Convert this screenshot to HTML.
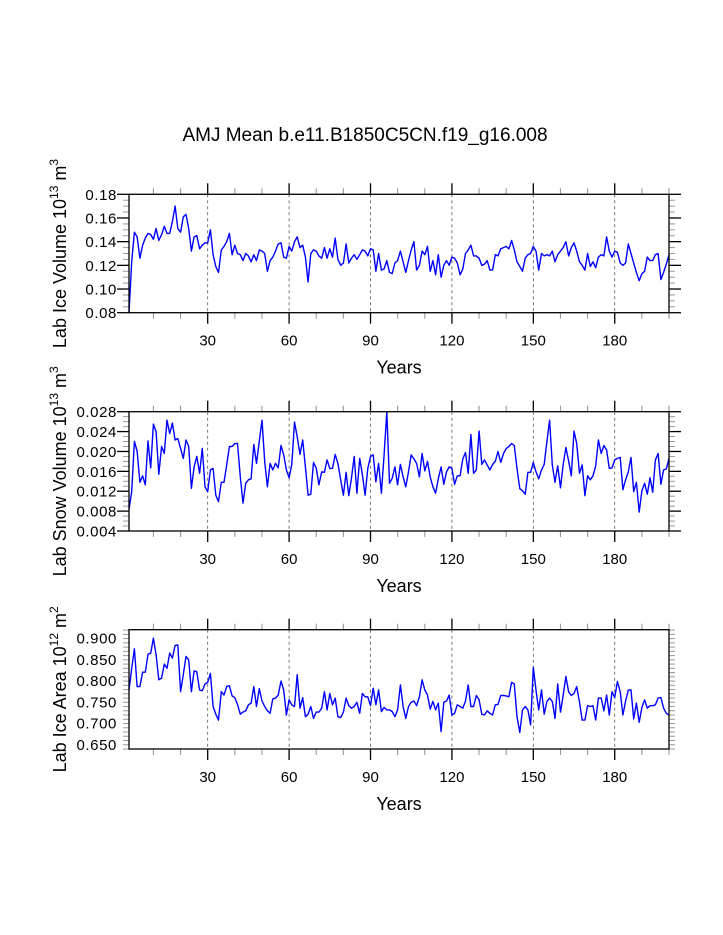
<!DOCTYPE html>
<html><head><meta charset="utf-8"><style>
html,body{margin:0;padding:0;background:#fff;width:723px;height:935px;overflow:hidden}
svg text{font-family:"Liberation Sans",Arial,sans-serif;fill:#000}
</style></head><body>
<svg id="chart" width="723" height="935" xmlns="http://www.w3.org/2000/svg">
<text x="365" y="141" font-size="19" text-anchor="middle">AMJ Mean b.e11.B1850C5CN.f19_g16.008</text>
</svg>
<script>
const years = Array.from({length:200},(_,i)=>i+1);
const xTicks = [30,60,90,120,150,180];
const iceVolume = [.080,.123,.148,.144,.126,.137,.143,.147,.146,.142,.151,.141,.146,.153,.147,.147,.157,.170,.151,.148,.161,.163,.151,.132,.144,.145,.134,.137,.139,.139,.150,.129,.119,.114,.133,.136,.140,.147,.129,.137,.130,.129,.124,.130,.128,.123,.129,.124,.133,.132,.130,.115,.124,.127,.132,.138,.139,.127,.126,.136,.132,.140,.144,.135,.137,.127,.106,.130,.133,.132,.128,.126,.135,.126,.134,.127,.143,.125,.120,.122,.138,.122,.126,.129,.125,.129,.133,.132,.128,.134,.133,.115,.130,.116,.117,.124,.114,.113,.122,.124,.132,.123,.114,.124,.133,.140,.116,.120,.132,.129,.136,.115,.124,.112,.129,.110,.120,.124,.120,.127,.126,.122,.112,.117,.130,.133,.137,.128,.128,.126,.120,.121,.124,.116,.116,.129,.128,.134,.135,.136,.134,.141,.133,.123,.119,.115,.126,.129,.130,.136,.132,.116,.130,.128,.129,.128,.132,.123,.129,.132,.135,.140,.128,.135,.139,.132,.123,.120,.116,.130,.119,.123,.118,.127,.129,.128,.144,.132,.127,.132,.131,.122,.120,.122,.138,.130,.122,.114,.107,.113,.115,.127,.124,.124,.129,.130,.108,.114,.121,.129];
const snowVolume = [.0084,.0119,.0220,.0201,.0138,.0151,.0133,.0221,.0167,.0255,.0240,.0154,.0210,.0196,.0263,.0236,.0257,.0223,.0226,.0206,.0186,.0223,.0210,.0126,.0169,.0190,.0156,.0206,.0129,.0119,.0163,.0166,.0112,.0099,.0138,.0138,.0173,.0210,.0210,.0216,.0216,.0149,.0096,.0136,.0143,.0145,.0214,.0176,.0221,.0263,.0180,.0129,.0176,.0163,.0176,.0167,.0212,.0193,.0163,.0147,.0174,.0259,.0230,.0194,.0223,.0169,.0112,.0114,.0178,.0167,.0133,.0159,.0158,.0183,.0166,.0166,.0194,.0176,.0143,.0112,.0158,.0111,.0147,.0190,.0116,.0186,.0153,.0112,.0166,.0190,.0193,.0139,.0176,.0116,.0193,.0280,.0136,.0146,.0169,.0133,.0174,.0149,.0129,.0159,.0193,.0185,.0176,.0149,.0196,.0161,.0180,.0149,.0129,.0116,.0145,.0169,.0134,.0159,.0169,.0166,.0134,.0151,.0151,.0185,.0198,.0156,.0234,.0156,.0163,.0241,.0174,.0183,.0173,.0163,.0174,.0180,.0200,.0178,.0196,.0206,.0210,.0216,.0212,.0166,.0125,.0121,.0114,.0158,.0158,.0178,.0159,.0145,.0163,.0174,.0220,.0263,.0173,.0138,.0171,.0127,.0174,.0208,.0181,.0151,.0241,.0216,.0156,.0173,.0111,.0151,.0143,.0151,.0171,.0223,.0196,.0212,.0203,.0166,.0167,.0183,.0186,.0188,.0123,.0143,.0159,.0188,.0119,.0138,.0078,.0121,.0136,.0114,.0147,.0118,.0183,.0196,.0134,.0163,.0165,.0186];
const iceArea = [.778,.829,.875,.786,.786,.820,.820,.862,.865,.900,.861,.802,.806,.839,.829,.865,.853,.883,.884,.774,.814,.857,.849,.774,.823,.821,.778,.776,.792,.796,.817,.739,.721,.707,.774,.766,.786,.788,.764,.760,.744,.721,.726,.729,.743,.747,.786,.739,.781,.752,.739,.729,.723,.757,.759,.766,.799,.778,.719,.755,.743,.739,.814,.735,.760,.715,.721,.739,.711,.726,.726,.735,.774,.731,.770,.743,.759,.715,.713,.726,.759,.741,.735,.739,.749,.723,.770,.762,.762,.741,.782,.743,.778,.727,.737,.731,.731,.727,.715,.731,.790,.739,.711,.739,.749,.752,.741,.762,.802,.778,.766,.733,.751,.731,.747,.680,.749,.752,.766,.719,.723,.743,.739,.735,.752,.790,.739,.739,.765,.755,.721,.719,.729,.723,.719,.743,.744,.765,.765,.764,.762,.796,.792,.715,.678,.731,.739,.731,.696,.831,.778,.731,.778,.721,.751,.759,.751,.711,.792,.726,.766,.810,.774,.765,.770,.786,.749,.707,.707,.741,.739,.741,.707,.759,.759,.729,.766,.719,.774,.760,.798,.774,.719,.752,.778,.778,.710,.747,.702,.737,.755,.735,.741,.741,.743,.759,.760,.735,.723,.719];
const iceVolTicks = [0.08,0.10,0.12,0.14,0.16,0.18];
const snowTicks = [0.004,0.008,0.012,0.016,0.020,0.024,0.028];
const areaTicks = [0.650,0.700,0.750,0.800,0.850,0.900];

const NS="http://www.w3.org/2000/svg";
const svg=document.getElementById('chart');
function mk(tag,attrs,parent){const e=document.createElementNS(NS,tag);for(const k in attrs)e.setAttribute(k,attrs[k]);(parent||svg).appendChild(e);return e;}
const X0=129,X1=669,XMIN=1,XMAX=200;
function xs(v){return X0+(v-XMIN)/(XMAX-XMIN)*(X1-X0);}

function panel(name,top,bot,ymin,ymax,ticks,dec,minorStep,data,titleMain,sup1,unit,sup2){
  const g=mk('g',{});
  
  
  const ys=v=>bot-(v-ymin)/(ymax-ymin)*(bot-top);
  xTicks.forEach(t=>{const l=mk('line',{x1:xs(t),x2:xs(t),y1:top,y2:bot,stroke:'#555','stroke-width':0.8,'stroke-dasharray':'3,3'},g);
    
    });
  for(let t=10;t<=200;t+=10){const major=t%30===0;const len=major?11:6;
    mk('line',{x1:xs(t),x2:xs(t),y1:top,y2:top-len,stroke:major?'#000':'#999','stroke-width':major?1.3:1.1},g);
    mk('line',{x1:xs(t),x2:xs(t),y1:bot,y2:bot+len,stroke:major?'#000':'#999','stroke-width':major?1.3:1.1},g);}
  xTicks.forEach(t=>{const tx=mk('text',{x:xs(t),y:bot+33,'font-size':15,'text-anchor':'middle'},g);tx.textContent=t;
    
    });
  for(let v=ymin;v<=ymax+1e-9;v+=minorStep){const isMajor=ticks.some(t=>Math.abs(t-v)<1e-9);const len=isMajor?12:6;const y=ys(v);
    mk('line',{x1:X0,x2:X0-len,y1:y,y2:y,stroke:isMajor?'#000':'#999','stroke-width':isMajor?1.3:1},g);
    mk('line',{x1:X1,x2:X1+len,y1:y,y2:y,stroke:isMajor?'#000':'#999','stroke-width':isMajor?1.3:1},g);}
  ticks.forEach(t=>{const tx=mk('text',{x:X0-12,y:ys(t)+5.5,'font-size':15,'letter-spacing':'0.6','text-anchor':'end'},g);tx.textContent=t.toFixed(dec);
    
    });
  const pts=data.map((v,i)=>xs(years[i]).toFixed(1)+','+ys(v).toFixed(1)).join(' ');
  const pl=mk('polyline',{points:pts,fill:'none',stroke:'#0000ff','stroke-width':1.4,'stroke-linejoin':'round'},g);
  
  
  const fr=mk('rect',{x:X0,y:top,width:X1-X0,height:bot-top,fill:'none',stroke:'#000','stroke-width':1.3},g);
  
  
  const xt=mk('text',{x:(X0+X1)/2,y:bot+61,'font-size':18,'text-anchor':'middle'},g);xt.textContent='Years';
  
  
  const cy=(top+bot)/2;
  const yt=mk('text',{transform:`translate(66,${cy}) rotate(-90)`,'font-size':18,'text-anchor':'middle'},g);
  
  
  const a=mk('tspan',{},yt);a.textContent=titleMain;
  const b=mk('tspan',{dy:-8,'font-size':12},yt);b.textContent=sup1;
  const c=mk('tspan',{dy:8},yt);c.textContent=' '+unit;
  const d=mk('tspan',{dy:-8,'font-size':12},yt);d.textContent=sup2;
}
panel('ice-volume',194.3,312.7,0.08,0.18,iceVolTicks,2,0.005,iceVolume,'Lab Ice Volume 10','13','m','3');
panel('snow-volume',411.7,531,0.004,0.028,snowTicks,3,0.001,snowVolume,'Lab Snow Volume 10','13','m','3');
panel('ice-area',629.7,749,0.639,0.920,areaTicks,3,0.01,iceArea,'Lab Ice Area 10','12','m','2');
</script>
</body></html>
